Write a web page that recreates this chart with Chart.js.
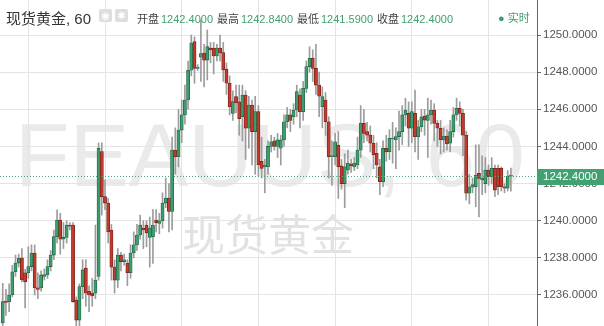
<!DOCTYPE html>
<html><head><meta charset="utf-8">
<script src="https://cdn.jsdelivr.net/npm/chart.js@4.4.0/dist/chart.umd.min.js"></script>
<style>
html,body{margin:0;padding:0;background:#fff;}
#wrap{position:relative;width:604px;height:326px;overflow:hidden;}
#c{position:absolute;left:0;top:0;}
.hdr{position:absolute;white-space:nowrap;font-family:"Liberation Sans","Noto Sans CJK SC",sans-serif;}
#title{left:6px;top:7px;font-size:15px;color:#333;}
.ic{position:absolute;top:9px;width:13px;height:13px;background:#dedede;border-radius:2px;color:#fff;font-size:10px;line-height:13px;text-align:center;font-family:"DejaVu Sans",sans-serif;}
#ohlc{left:137px;top:10px;font-size:11px;color:#444;}
#ohlc .v{color:#3f9e70;margin-left:2px;margin-right:4px;}
#live{left:498px;top:9px;font-size:11px;color:#3f9e70;}
</style></head>
<body>
<div id="wrap">
<canvas id="c" width="604" height="326"></canvas>
<div class="hdr" id="title">现货黄金, 60</div>
<div class="ic" style="left:99px">◉</div>
<div class="ic" style="left:115px">✱</div>
<div class="hdr" id="ohlc"></div>
<div class="hdr" id="live">● 实时</div>
</div>
<script>
// hourly candles
const opens = [1234.49,1235.64,1235.64,1236.0,1237.25,1237.72,1237.99,1237.2,1237.2,1237.53,1238.26,1236.38,1236.38,1237.0,1237.08,1237.53,1238.15,1239.14,1240.04,1239.0,1239.1,1239.77,1239.77,1235.73,1234.65,1236.45,1237.45,1236.2,1236.1,1236.1,1237.0,1243.72,1241.3,1240.95,1239.5,1237.5,1236.8,1238.15,1237.8,1237.72,1237.2,1238.26,1238.7,1239.23,1239.6,1239.77,1239.1,1239.14,1240.04,1239.85,1240.0,1240.95,1241.22,1240.5,1243.8,1243.45,1244.88,1245.7,1246.5,1248.1,1249.64,1248.2,1248.8,1249.03,1248.65,1249.3,1249.3,1248.87,1249.3,1249.05,1248.17,1247.4,1245.78,1246.68,1246.4,1245.6,1246.77,1244.98,1246.23,1244.8,1245.87,1243.2,1242.9,1242.9,1244.0,1244.3,1244.0,1243.9,1244.35,1245.33,1245.7,1245.6,1245.96,1246.77,1245.87,1247.13,1248.3,1248.75,1248.2,1247.3,1246.14,1246.5,1245.33,1243.45,1243.45,1244.07,1242.95,1242.0,1242.73,1243.05,1242.9,1243.0,1243.8,1245.24,1244.8,1244.6,1244.17,1243.63,1242.9,1242.1,1243.9,1243.72,1244.4,1244.35,1244.53,1244.8,1245.7,1245.78,1244.98,1245.78,1244.52,1245.06,1245.64,1245.4,1245.7,1245.96,1245.24,1244.98,1244.35,1244.56,1244.17,1244.8,1245.7,1246.05,1245.78,1244.6,1241.48,1241.8,1241.83,1242.55,1242.2,1242.0,1242.73,1242.37,1242.82,1242.82,1242.82,1241.83,1241.75,1242.4];
const highs = [1236.63,1236.3,1236.6,1237.6,1238.15,1238.2,1238.5,1237.4,1238.6,1238.7,1238.7,1237.2,1237.3,1237.4,1237.9,1238.4,1239.5,1240.58,1240.4,1239.9,1240.0,1239.9,1239.9,1235.9,1236.6,1237.9,1237.9,1236.5,1236.9,1239.77,1244.18,1244.2,1242.2,1241.2,1239.8,1237.9,1238.5,1238.3,1238.2,1237.9,1238.7,1239.4,1239.8,1240.3,1240.0,1240.0,1240.2,1240.6,1240.6,1240.4,1241.5,1242.3,1242.0,1244.5,1245.0,1246.0,1246.5,1247.3,1248.6,1250.0,1249.9,1248.4,1250.8,1249.5,1250.27,1249.6,1249.6,1249.5,1250.0,1249.6,1248.5,1247.8,1247.0,1247.3,1247.3,1247.3,1247.0,1246.7,1246.5,1246.7,1246.2,1244.5,1243.3,1244.3,1244.6,1244.5,1244.7,1244.6,1245.7,1246.1,1246.0,1246.3,1247.3,1247.1,1247.5,1248.6,1249.37,1249.2,1249.5,1248.0,1247.2,1246.9,1245.6,1244.3,1244.7,1244.8,1243.3,1243.6,1243.8,1243.3,1243.4,1244.5,1246.2,1246.0,1245.3,1245.1,1244.6,1244.2,1243.3,1244.3,1244.6,1244.9,1245.3,1245.0,1245.9,1246.2,1246.6,1246.4,1246.4,1247.04,1245.4,1246.0,1246.0,1246.6,1246.5,1246.3,1245.4,1245.4,1245.0,1244.9,1245.4,1246.1,1246.6,1246.4,1246.0,1244.8,1242.5,1242.3,1244.08,1244.08,1243.5,1243.4,1243.0,1243.4,1243.0,1243.0,1242.9,1242.0,1242.7,1242.84];
const lows = [1234.3,1234.9,1235.1,1235.9,1237.0,1237.5,1236.7,1235.3,1236.9,1237.3,1236.0,1235.8,1236.2,1236.8,1236.9,1237.3,1237.9,1238.8,1238.2,1238.5,1238.8,1239.5,1235.6,1234.1,1234.3,1235.8,1235.4,1235.1,1235.4,1235.8,1236.8,1240.3,1240.6,1238.8,1236.8,1236.1,1236.4,1237.3,1237.6,1236.5,1236.9,1238.0,1238.4,1239.0,1238.5,1238.6,1237.5,1237.7,1239.4,1239.3,1239.6,1240.7,1239.4,1239.5,1242.5,1242.9,1244.2,1245.2,1246.0,1247.8,1247.4,1248.1,1247.5,1247.2,1247.58,1248.5,1247.9,1248.6,1248.6,1247.5,1246.8,1245.7,1245.4,1245.8,1244.6,1244.3,1243.3,1243.9,1243.0,1242.5,1242.4,1242.3,1241.5,1242.5,1243.7,1243.8,1243.4,1243.0,1244.0,1245.0,1244.8,1245.2,1245.6,1245.0,1245.4,1246.9,1248.0,1247.5,1246.8,1245.6,1245.0,1244.6,1242.3,1241.9,1243.0,1241.2,1241.7,1240.7,1242.5,1242.6,1242.7,1242.8,1243.4,1244.2,1244.3,1243.7,1242.8,1242.3,1241.4,1241.83,1243.2,1243.3,1243.1,1242.8,1243.8,1244.1,1245.1,1244.0,1244.2,1243.7,1243.3,1244.8,1244.6,1243.4,1245.2,1244.3,1244.0,1243.6,1243.7,1243.8,1243.7,1244.5,1245.4,1245.1,1243.5,1241.1,1240.9,1241.5,1240.75,1240.2,1241.4,1241.5,1241.9,1242.0,1241.3,1241.4,1241.6,1241.5,1241.6,1241.59];
const closes = [1235.64,1235.6,1236.0,1237.25,1237.72,1237.99,1236.81,1236.72,1237.53,1238.26,1236.38,1236.3,1237.08,1237.1,1237.53,1238.15,1239.14,1240.04,1239.0,1239.1,1239.77,1239.7,1235.64,1234.65,1236.45,1237.35,1236.1,1236.0,1235.95,1236.8,1243.9,1241.3,1240.95,1239.4,1237.5,1236.8,1238.15,1237.8,1237.9,1237.2,1238.26,1238.7,1239.23,1239.77,1239.5,1239.34,1239.6,1239.77,1239.9,1240.0,1240.95,1241.22,1240.5,1243.8,1243.45,1244.88,1245.7,1246.5,1248.1,1249.57,1248.2,1248.25,1249.0,1248.65,1249.37,1249.2,1248.87,1249.3,1249.03,1248.12,1247.4,1246.14,1246.41,1246.34,1245.5,1246.77,1244.98,1246.23,1244.8,1245.87,1243.0,1242.82,1243.0,1244.0,1244.25,1244.0,1244.35,1244.35,1245.33,1245.7,1245.4,1245.96,1246.95,1245.87,1247.13,1248.3,1248.75,1248.2,1247.3,1246.7,1246.68,1245.33,1243.45,1243.5,1244.25,1242.9,1242.0,1242.9,1243.1,1242.95,1243.1,1243.8,1245.24,1244.7,1244.6,1244.17,1243.54,1243.0,1242.1,1243.9,1243.7,1244.44,1244.42,1244.53,1244.8,1245.7,1245.96,1244.98,1245.87,1244.52,1245.06,1245.6,1245.42,1245.7,1245.96,1245.24,1244.98,1244.35,1244.56,1244.13,1244.8,1245.7,1246.05,1245.78,1244.6,1241.48,1241.83,1241.95,1242.46,1242.28,1242.3,1242.73,1242.37,1242.82,1241.65,1241.83,1241.83,1241.75,1242.4,1242.4];
// bar indices where a new day starts (vertical grid lines)
const dayStarts = [8,32,56,80,104,128,152];
const yStep = 2;

const n = closes.length;
const last = n - 1;
const GREEN = '#3c9e6c', GREEN_D = '#23674a', RED = '#c23a2c', RED_D = '#7a2219', WICK = '#9c9c9c';

document.getElementById('ohlc').innerHTML =
  '开盘<span class="v">' + opens[last].toFixed(4) + '</span>' +
  '最高<span class="v">' + highs[last].toFixed(4) + '</span>' +
  '最低<span class="v">' + lows[last].toFixed(4) + '</span>' +
  '收盘<span class="v">' + closes[last].toFixed(4) + '</span>';

const bodies = [], wicks = [], up = [];
for (let i = 0; i < n; i++) {
  bodies.push({x: i, y: [opens[i], closes[i]]});
  wicks.push({x: i, y: [lows[i], highs[i]]});
  up.push(closes[i] >= opens[i]);
}

const watermark = {
  id: 'wm',
  beforeDraw(chart) {
    const c = chart.ctx;
    c.save();
    c.fillStyle = '#eaeaea';
    c.font = '90px "Liberation Sans"';
    const w = c.measureText('FEAUUS, 60').width;
    const fs = 90 * 510 / w;
    c.font = fs + 'px "Liberation Sans"';
    c.textBaseline = 'alphabetic';
    c.fillText('FEAUUS, 60', 15, 186);
    c.fillStyle = '#e2e2e2';
    c.font = '43px "Noto Sans CJK SC"';
    c.fillText('现货黄金', 182, 251);
    c.restore();
  }
};

const priceLine = {
  id: 'pl',
  afterDatasetsDraw(chart) {
    const c = chart.ctx, a = chart.chartArea;
    const y = Math.round(chart.scales.y.getPixelForValue(closes[last])) + 0.5;
    c.save();
    c.strokeStyle = '#4aa77c';
    c.lineWidth = 1;
    c.setLineDash([1, 2]);
    c.beginPath(); c.moveTo(a.left, y); c.lineTo(a.right, y); c.stroke();
    c.restore();
  },
  afterDraw(chart) {
    const c = chart.ctx, a = chart.chartArea;
    const y = Math.round(chart.scales.y.getPixelForValue(closes[last]));
    c.save();
    c.fillStyle = '#43a073';
    c.fillRect(a.right, y - 7, chart.width - a.right, 16);
    c.fillStyle = '#fff';
    c.font = '11.5px "Liberation Sans"';
    c.textBaseline = 'middle';
    c.fillText(closes[last].toFixed(4), a.right + 6, y + 1);
    c.restore();
  }
};

const pxPerBar = 3.196, firstX = 2.73, areaW = 537;
const pxPerUnit = 260 / 14;
new Chart(document.getElementById('c'), {
  type: 'bar',
  data: {
    datasets: [
      {data: bodies, backgroundColor: up.map(u => u ? GREEN : RED), borderColor: up.map(u => u ? GREEN_D : RED_D),
       borderWidth: 0.8, borderSkipped: false, barThickness: 3.2, minBarLength: 1, grouped: false},
      {data: wicks, backgroundColor: WICK, borderWidth: 0, barThickness: 1, grouped: false}
    ]
  },
  options: {
    responsive: false, animation: false, events: [],
    layout: {padding: 0},
    plugins: {legend: {display: false}, tooltip: {enabled: false}},
    scales: {
      x: {
        type: 'linear', offset: false,
        min: -firstX / pxPerBar, max: (areaW - firstX) / pxPerBar,
        grid: {color: '#e4e4e4', drawTicks: false, offset: false},
        border: {display: false},
        ticks: {display: false},
        afterBuildTicks: s => { s.ticks = dayStarts.map(v => ({value: v})); },
        afterFit: s => { s.height = 0; s.paddingLeft = 0; s.paddingRight = 0; }
      },
      y: {
        position: 'right',
        min: 1236 - 31 / pxPerUnit, max: 1250 + 35 / pxPerUnit,
        ticks: {stepSize: yStep, includeBounds: false, color: '#555', padding: 2,
                font: {family: 'Liberation Sans', size: 11.5},
                callback: v => Number(v).toFixed(4)},
        grid: {color: '#e4e4e4', tickLength: 4, tickColor: '#666'},
        border: {color: '#666'},
        afterFit: s => { s.width = 604 - 537; s.paddingTop = 0; s.paddingBottom = 0; }
      }
    }
  },
  plugins: [watermark, priceLine]
});
</script>
</body></html>
